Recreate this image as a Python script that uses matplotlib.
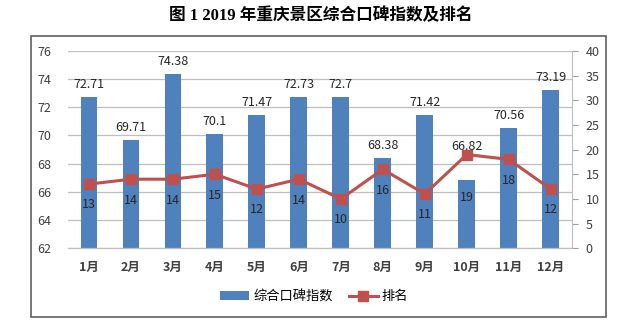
import numpy as np
import matplotlib
matplotlib.use("Agg")
import matplotlib.pyplot as plt
from matplotlib.patches import Rectangle
from matplotlib.lines import Line2D
from matplotlib.patches import Patch

plt.rcParams["font.family"] = ["Noto Sans CJK SC", "DejaVu Sans"]

months = ["1月", "2月", "3月", "4月", "5月", "6月",
          "7月", "8月", "9月", "10月", "11月", "12月"]
index_vals = [72.71, 69.71, 74.38, 70.1, 71.47, 72.73,
              72.7, 68.38, 71.42, 66.82, 70.56, 73.19]
ranks = [13, 14, 14, 15, 12, 14, 10, 16, 11, 19, 18, 12]

bar_color = "#4F81BD"
line_color = "#C0504D"

fig = plt.figure(figsize=(6.41, 3.28), dpi=100)
ax = fig.add_axes([0.106, 0.243, 0.786, 0.602])
ax2 = ax.twinx()

x = np.arange(len(months))
ax.bar(x, index_vals, width=0.4, color=bar_color, bottom=0, zorder=2)
ax.set_ylim(62, 76)
ax.set_yticks(np.arange(62, 77, 2))
ax.set_xlim(-0.5, len(months) - 0.5)
ax.set_xticks(x)
ax.set_xticklabels(months, fontsize=9, fontweight="bold", color="#404040")
ax.tick_params(axis="x", length=0, pad=9)
ax.tick_params(axis="y", length=0, labelsize=9, pad=12, labelcolor="#404040")
ax.grid(axis="y", color="#BFBFBF", linewidth=0.9, zorder=0)
ax.set_axisbelow(True)

# bar labels (66.82 sits higher, moved off the line)
for i, v in enumerate(index_vals):
    dy = 24 if v == 66.82 else 9
    ax.annotate(f"{v:g}", (x[i], v), xytext=(0, dy), textcoords="offset points",
                ha="center", va="center", fontsize=9, color="#262626")

ax2.plot(x, ranks, color=line_color, linewidth=2.2, marker="s",
         markersize=7, zorder=3)
ax2.set_ylim(0, 40)
ax2.set_yticks(np.arange(0, 41, 5))
ax2.tick_params(axis="y", length=4, color="#A0A0A0", labelsize=9,
                labelcolor="#404040", pad=6)

for i, r in enumerate(ranks):
    dy = -31 if r == 19 else -15
    ax2.annotate(str(r), (x[i], r), xytext=(0, dy), textcoords="offset points",
                 ha="center", va="center", fontsize=9, color="#262626")

for a in (ax, ax2):
    for s in ("top", "left", "right"):
        a.spines[s].set_visible(False)
    a.spines["bottom"].set_color("#BFBFBF")
ax2.spines["right"].set_visible(True)
ax2.spines["right"].set_color("#BFBFBF")

# outer frame
fig.patches.append(Rectangle((0.048, 0.034), 0.897, 0.857, transform=fig.transFigure,
                             fill=False, edgecolor="#606060", linewidth=1.2))

fig.text(0.5, 0.953, "图 1 2019 年重庆景区综合口碑指数及排名",
         ha="center", va="center", fontsize=12, fontweight="bold",
         family=["Liberation Serif", "Noto Sans CJK SC"])

handles = [Patch(facecolor=bar_color, edgecolor="none"),
           Line2D([0], [0], color=line_color, linewidth=2.2, marker="s", markersize=7)]
fig.legend(handles, ["综合口碑指数", "排名"], loc="center", bbox_to_anchor=(0.49, 0.095),
           ncol=2, frameon=False, fontsize=9.5, handlelength=2.2, columnspacing=1.2,
           handletextpad=0.3)

fig.savefig("out.png", dpi=100)
